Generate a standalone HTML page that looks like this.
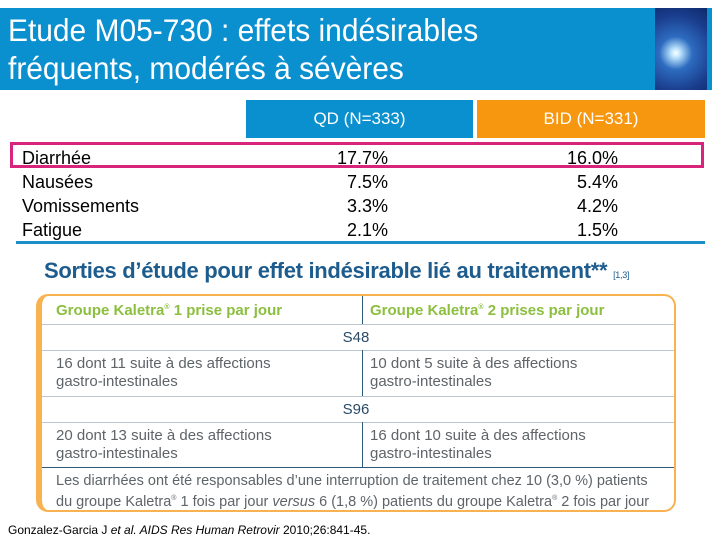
<!DOCTYPE html>
<html><head><meta charset="utf-8"><style>
body{margin:0;width:720px;height:540px;background:#fff;position:relative;overflow:hidden;font-family:"Liberation Sans",sans-serif}
div{position:absolute;box-sizing:border-box}
.t{white-space:nowrap}
.r{color:#000;font-size:18px}
.c{color:#5e6468;font-size:15px;line-height:18px}
.g{color:#8cbf3f;font-size:15px;font-weight:bold}
.hl{position:absolute;left:0;right:0;height:1px;background:#b9c7d3}
</style></head><body>
<div style="left:0;top:8px;width:712px;height:82px;background:#0a8fcf"></div>
<div class="t" style="left:8px;top:11px;color:#fff;font-size:31.5px;line-height:38px;transform:scaleX(0.95);transform-origin:left">Etude M05-730 : effets indésirables<br>fréquents, modérés à sévères</div>
<div style="left:655px;top:8px;width:52px;height:82px;background:radial-gradient(circle at 40% 55%,#fff 0,#bfe6ff 8%,#2d6cc0 30%,#1a3c8c 70%,#0c2a6a 100%)"></div>

<div class="t" style="left:246px;top:100px;width:227px;height:38px;background:#0a8fcf;color:#fff;font-size:17px;text-align:center;line-height:38px">QD (N=333)</div>
<div class="t" style="left:477px;top:100px;width:228px;height:38px;background:#f7960f;color:#fff;font-size:17px;text-align:center;line-height:38px">BID (N=331)</div>
<div style="left:10px;top:142px;width:694px;height:26px;border:3px solid #d8247a"></div>

<div class="t r" style="left:22px;top:146px;line-height:24px">Diarrhée<br>Nausées<br>Vomissements<br>Fatigue</div>
<div class="t r" style="left:330px;top:146px;line-height:24px;text-align:right;width:58px">17.7%<br>7.5%<br>3.3%<br>2.1%</div>
<div class="t r" style="left:560px;top:146px;line-height:24px;text-align:right;width:58px">16.0%<br>5.4%<br>4.2%<br>1.5%</div>
<div style="left:16px;top:241px;width:689px;height:3px;background:#1b8fc6"></div>

<div class="t" style="left:44px;top:258px;color:#1d5c8d;font-size:22px;font-weight:bold;letter-spacing:-0.3px">Sorties d’étude pour effet indésirable lié au traitement** <span style="font-size:9px;font-weight:normal">[1,3]</span></div>

<div style="left:36px;top:294px;width:640px;height:218px;border:2px solid #f8b24f;border-left:6px solid #f8b24f;border-radius:12px;overflow:hidden">
<div class="hl" style="top:28px"></div>
<div class="hl" style="top:54px"></div>
<div class="hl" style="top:100px"></div>
<div class="hl" style="top:126px"></div>
<div class="hl" style="top:171px;background:#2d5a7a"></div>
<div style="left:320px;top:0;width:1px;height:28px;background:#2d5a7a"></div>
<div style="left:320px;top:54px;width:1px;height:46px;background:#2d5a7a"></div>
<div style="left:320px;top:126px;width:1px;height:45px;background:#2d5a7a"></div>
</div>
<div class="t g" style="left:56px;top:302px">Groupe Kaletra<sup style="font-size:7px">®</sup> 1 prise par jour</div>
<div class="t g" style="left:370px;top:302px">Groupe Kaletra<sup style="font-size:7px">®</sup> 2 prises par jour</div>
<div class="t c" style="left:36px;width:640px;text-align:center;top:329px;color:#2a4a66">S48</div>
<div class="t c" style="left:56px;top:355px">16 dont 11 suite à des affections<br>gastro-intestinales</div>
<div class="t c" style="left:370px;top:355px">10 dont 5 suite à des affections<br>gastro-intestinales</div>
<div class="t c" style="left:36px;width:640px;text-align:center;top:401px;color:#2a4a66">S96</div>
<div class="t c" style="left:56px;top:427px">20 dont 13 suite à des affections<br>gastro-intestinales</div>
<div class="t c" style="left:370px;top:427px">16 dont 10 suite à des affections<br>gastro-intestinales</div>
<div class="t c" style="left:56px;top:472px;font-size:14.5px">Les diarrhées ont été responsables d’une interruption de traitement chez 10 (3,0 %) patients<br>du groupe Kaletra<sup style="font-size:7px">®</sup> 1 fois par jour <i>versus</i> 6 (1,8 %) patients du groupe Kaletra<sup style="font-size:7px">®</sup> 2 fois par jour</div>
<div class="t" style="left:8px;top:523px;font-size:12px;color:#000">Gonzalez-Garcia J <i>et al. AIDS Res Human Retrovir</i> 2010;26:841-45.</div>
</body></html>
